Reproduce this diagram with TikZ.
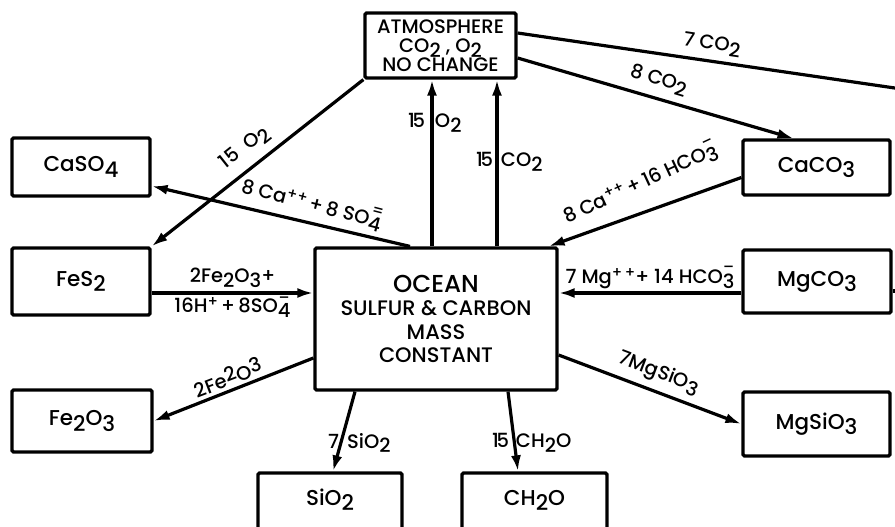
\documentclass[tikz,border=0pt]{standalone}
\usepackage{fontspec}
\setmainfont{Poppins}[BoldFont={Poppins Medium}]
\usetikzlibrary{arrows.meta}
\newcommand\lo[1]{\raisebox{-0.45ex}{#1}}
\newcommand\up[1]{\raisebox{0.35ex}{#1}}
\newcommand\hi[1]{\raisebox{0.6ex}{\scalebox{0.75}{#1}}}
\newcommand\lsup[2]{\ooalign{\raisebox{-0.45ex}{#1}\cr\hidewidth\raisebox{1.05ex}{\scalebox{0.8}{#2}}\hidewidth\cr}}
\newcommand\fsz[1]{\fontsize{#1}{#1}\selectfont\bfseries}
\newcommand\fift{1\kern-2.5pt5}
\begin{document}
\begin{tikzpicture}[x=1pt,y=-1pt,
  box/.style={draw, line width=3.2pt, rounded corners=1.5pt, inner sep=0pt, font=\fsz{21.5}},
  lab/.style={font=\fsz{19.5}, inner sep=0.5pt},
  arr/.style={line width=3.2pt, -{Latex[length=16pt,width=10pt]}},
  ln/.style={line width=3.2pt}]
\useasboundingbox (0,0) rectangle (895,527);
\clip (0,0) rectangle (895,527);
% boxes
\node[box, minimum width=151pt, minimum height=65pt, align=center, font=\fontsize{19.5}{19}\selectfont\bfseries] (atm) at (440.5,45.5)
  {ATMOSPHERE\\CO\lo{2} , O\lo{2}\\NO CHANGE};
\node[box, minimum width=138pt, minimum height=58pt] (caso4) at (81,167) {CaSO\lo{4}};
\node[box, minimum width=138pt, minimum height=67pt] (fes2) at (81,281.5) {FeS\lo{2}};
\node[box, minimum width=140pt, minimum height=62pt] (fe2o3) at (82,421) {Fe\lo{2}O\lo{3}};
\node[box, minimum width=242pt, minimum height=142pt, align=center, font=\fontsize{21}{23.5}\selectfont\bfseries] (ocean) at (436,319)
  {{\fsz{24.5}OCEAN}\\SULFUR \& CARBON\\MASS\\CONSTANT};
\node[box, minimum width=147pt, minimum height=55pt] (caco3) at (816.5,167.5) {CaCO\lo{3}};
\node[box, minimum width=148pt, minimum height=63pt] (mgco3) at (817,281.5) {MgCO\lo{3}};
\node[box, minimum width=147pt, minimum height=64pt] (mgsio3) at (816.5,424) {MgSiO\lo{3}};
\node[box, minimum width=144pt, minimum height=72pt, text height=14pt, text depth=22pt] (sio2) at (330,509) {SiO\lo{2}};
\node[box, minimum width=145pt, minimum height=72pt, text height=14pt, text depth=22pt] (ch2o) at (534.5,509) {CH\lo{2}O};
% free ends
\coordinate (off1) at (905,89.5);
\coordinate (off2) at (905,291);
% connectors
\draw[ln] ([yshift=12.5pt]atm.east) -- (off1);
\draw[arr] ([yshift=-12.5pt]atm.east) -- ([xshift=-23pt]caco3.north);
\draw[arr] (atm.south west) -- (fes2.north east);
\coordinate (o1) at ([xshift=-4pt]ocean.north);
\coordinate (o2) at ([xshift=61pt]ocean.north);
\draw[arr] (o1) -- (o1 |- atm.south);
\draw[arr] (o2) -- (o2 |- atm.south);
\draw[arr] ([xshift=-26pt]ocean.north) -- ([yshift=-19pt]caso4.east);
\draw[arr] ([yshift=-10pt]caco3.west) -- ([xshift=-10pt]ocean.north east);
\coordinate (f1) at ([yshift=-11.5pt]fes2.east);
\draw[arr] (f1) -- node[lab, above=3pt] (lfa) {2Fe\lo{2}O\lo{3}+}
  node[lab, below=2pt] (lfb) {16H\hi{+}\,+\,8SO\lsup{4}{=}} (f1 -| ocean.west);
\coordinate (m1) at ([yshift=-11.5pt]mgco3.west);
\draw[arr] (m1) -- node[lab, above=2pt] (lmg) {7 Mg\hi{+\,+}+ 14 HCO\lsup{3}{–}} (m1 -| ocean.east);
\draw[ln] ([yshift=-9.5pt]mgco3.east) -- (off2);
\draw[arr] ([yshift=-39pt]ocean.west) -- (fe2o3.east);
\draw[arr] ([yshift=-36pt]ocean.east) -- (mgsio3.west);
\draw[arr] ([xshift=-81pt]ocean.south) -- ([xshift=3pt]sio2.north);
\draw[arr] ([xshift=72pt]ocean.south) -- ([xshift=-16.5pt]ch2o.north);
% labels
\node[lab, rotate=-8.3] (l7co2) at (712,45) {7 CO\lo{2}};
\node[lab, rotate=-16.8] (l8co2) at (659,80) {8 CO\lo{2}};
\node[lab, rotate=38.4] (l15o2d) at (245,148) {15\ \ O\lo{2}};
\node[lab, anchor=west, inner sep=0pt] (l15o2) at (408,123) {\fift\hspace{10pt}O\lo{2}};
\node[lab, anchor=west, inner sep=0pt] (l15co2) at (476,162) {\fift\hspace{8pt}CO\lo{2}};
\node[lab, rotate=-14.5] (lcaso4) at (312,203) {8 Ca\hi{++}\,+\,8 SO\lsup{4}{=}};
\node[lab, rotate=24.8] (lcaco3) at (640,182) {8 Ca\hi{++}\,+\,16 HCO\lsup{3}{–}};
\node[lab, rotate=21] (lfe2o3) at (228,377) {2Fe\up{2}O\up{3}};
\node[lab, rotate=-20.8] (lmgsio3) at (659,373) {7MgSiO\lo{3}};
\node[lab, anchor=west, inner sep=0pt] (lsio2) at (328,443) {7\hspace{8pt}SiO\lo{2}};
\node[lab, anchor=west, inner sep=0pt] (lch2o) at (492,443) {\fift\hspace{7pt}CH\lo{2}O};
\end{tikzpicture}
\end{document}
